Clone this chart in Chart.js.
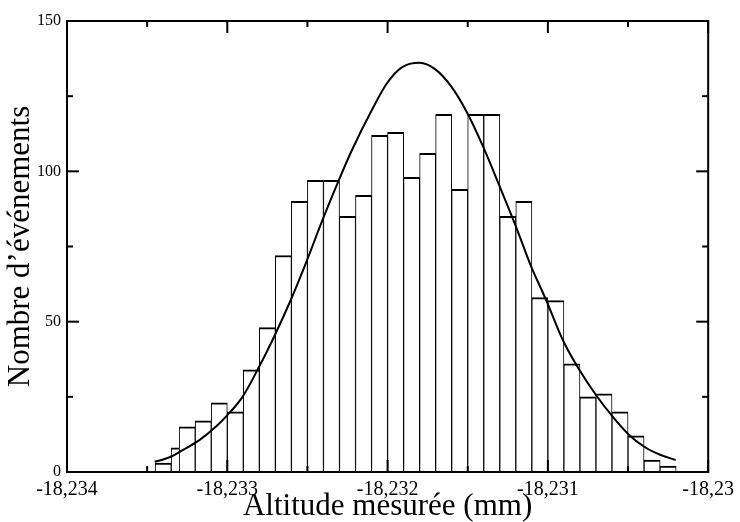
<!DOCTYPE html>
<html>
<head>
<meta charset="utf-8">
<script src="https://cdn.jsdelivr.net/npm/chart.js@4.4.1/dist/chart.umd.min.js"></script>
<style>
html,body{margin:0;padding:0;background:#fff;}
#c{display:block;}
</style>
</head>
<body>
<canvas id="c" width="740" height="522"></canvas>
<script>
// Histogram bins (bin centres, mm) and counts
const binCenters = [
  -18.2334, -18.2333,
  -18.23325, -18.23315, -18.23305, -18.23295, -18.23285, -18.23275, -18.23265, -18.23255,
  -18.23245, -18.23235, -18.23225, -18.23215, -18.23205, -18.23195, -18.23185, -18.23175,
  -18.23165, -18.23155, -18.23145, -18.23135, -18.23125, -18.23115, -18.23105, -18.23095,
  -18.23085, -18.23075, -18.23065, -18.23055, -18.23045, -18.23035, -18.23025
];
const binCounts = [
  3, 8,
  15, 17, 23, 20, 34, 48, 72, 90,
  97, 97, 85, 92, 112, 113, 98, 106,
  119, 94, 119, 119, 85, 90, 58, 57,
  36, 25, 26, 20, 12, 4, 2
];

// Fitted curve, points
const fitX = [
  -18.233453, -18.23336, -18.233278, -18.233174, -18.23307, -18.232998, -18.232905,
  -18.232812, -18.232708, -18.232604, -18.232506, -18.232404, -18.232304, -18.232222,
  -18.232098, -18.232004, -18.231911, -18.231801, -18.231704, -18.231601, -18.231507,
  -18.231404, -18.2313, -18.231207, -18.231104, -18.231011, -18.230907, -18.230803,
  -18.2307, -18.230596, -18.230493, -18.230399, -18.230296, -18.230203
];
const fitY = [
  3.4, 4.9, 7.3, 10.6, 15.1, 19.0, 25.0,
  33.9, 45.0, 57.2, 70.0, 84.1, 97.1, 107.1,
  120.4, 129.3, 134.6, 136.1, 134.0, 128.1, 119.8,
  108.2, 94.9, 82.7, 68.3, 57.2, 43.9, 33.9,
  25.6, 18.4, 12.3, 8.4, 5.65, 4.0
];

// Axis ticks
const xTickValues = [-18.234, -18.233, -18.232, -18.231, -18.23];
const xTickLabels = ["-18,234", "-18,233", "-18,232", "-18,231", "-18,23"];
const xMinorTicks = [-18.2335, -18.2325, -18.2315, -18.2305];
const yTickValues = [0, 50, 100, 150];
const yTickLabels = ["0", "50", "100", "150"];
const yMinorTicks = [25, 75, 125];

const FONT = "'Liberation Serif', 'Times New Roman', serif";

const frameTicks = {
  id: 'frameTicks',
  afterDatasetsDraw(chart) {
    const {ctx, chartArea: a, scales: {x, y}} = chart;
    ctx.save();
    ctx.strokeStyle = '#000';
    ctx.lineWidth = 2;
    ctx.lineCap = 'butt';
    const seg = (x1, y1, x2, y2) => { ctx.beginPath(); ctx.moveTo(x1, y1); ctx.lineTo(x2, y2); ctx.stroke(); };
    const xt = (v, len) => {
      const p = x.getPixelForValue(v);
      seg(p, a.bottom, p, a.bottom - len);
      seg(p, a.top, p, a.top + len);
    };
    const yt = (v, len) => {
      const p = y.getPixelForValue(v);
      seg(a.left, p, a.left + len, p);
      seg(a.right, p, a.right - len, p);
    };
    xTickValues.forEach(v => xt(v, 12));
    xMinorTicks.forEach(v => xt(v, 6));
    yTickValues.forEach(v => yt(v, 12));
    yMinorTicks.forEach(v => yt(v, 6));
    ctx.strokeRect(a.left, a.top, a.right - a.left, a.bottom - a.top);
    ctx.restore();
  }
};

new Chart(document.getElementById('c'), {
  type: 'bar',
  data: {
    datasets: [
      {
        type: 'line',
        order: 0,
        data: fitX.map((v, i) => ({x: v, y: fitY[i]})),
        borderColor: '#000',
        borderWidth: 2,
        pointRadius: 0,
        cubicInterpolationMode: 'monotone',
        fill: false
      },
      {
        type: 'bar',
        order: 1,
        data: binCenters.map((v, i) => ({x: v, y: binCounts[i]})),
        backgroundColor: '#fff',
        borderColor: '#000',
        borderWidth: {top: 2, left: 1, right: 1, bottom: 0},
        borderSkipped: 'start',
        barThickness: 16.1
      }
    ]
  },
  options: {
    responsive: false,
    animation: false,
    devicePixelRatio: 1,
    layout: {padding: {left: 0, top: 21, right: 29, bottom: 0}},
    plugins: {legend: {display: false}, tooltip: {enabled: false}},
    scales: {
      x: {
        type: 'linear',
        offset: false,
        min: -18.234,
        max: -18.23,
        grid: {display: false, drawTicks: false},
        border: {display: false},
        afterBuildTicks: s => { s.ticks = xTickValues.map(v => ({value: v})); },
        afterFit: s => { s.height = 50; },
        ticks: {
          autoSkip: false,
          maxRotation: 0,
          padding: 6,
          color: '#000',
          font: {family: FONT, size: 20},
          callback: (v, i) => xTickLabels[i]
        },
        title: {
          display: true,
          text: 'Altitude mesurée (mm)',
          color: '#000',
          padding: 0,
          font: {family: FONT, size: 31, lineHeight: 1.0}
        }
      },
      y: {
        min: 0,
        max: 150,
        grid: {display: false, drawTicks: false},
        border: {display: false},
        afterBuildTicks: s => { s.ticks = yTickValues.map(v => ({value: v})); },
        afterFit: s => { s.width = 67; },
        ticks: {
          padding: 6,
          color: '#000',
          font: {family: FONT, size: 16},
          callback: (v, i) => yTickLabels[i]
        },
        title: {
          display: true,
          text: 'Nombre d’événements',
          color: '#000',
          padding: 0,
          font: {family: FONT, size: 31, lineHeight: 1.35}
        }
      }
    }
  },
  plugins: [frameTicks]
});
</script>
</body>
</html>
